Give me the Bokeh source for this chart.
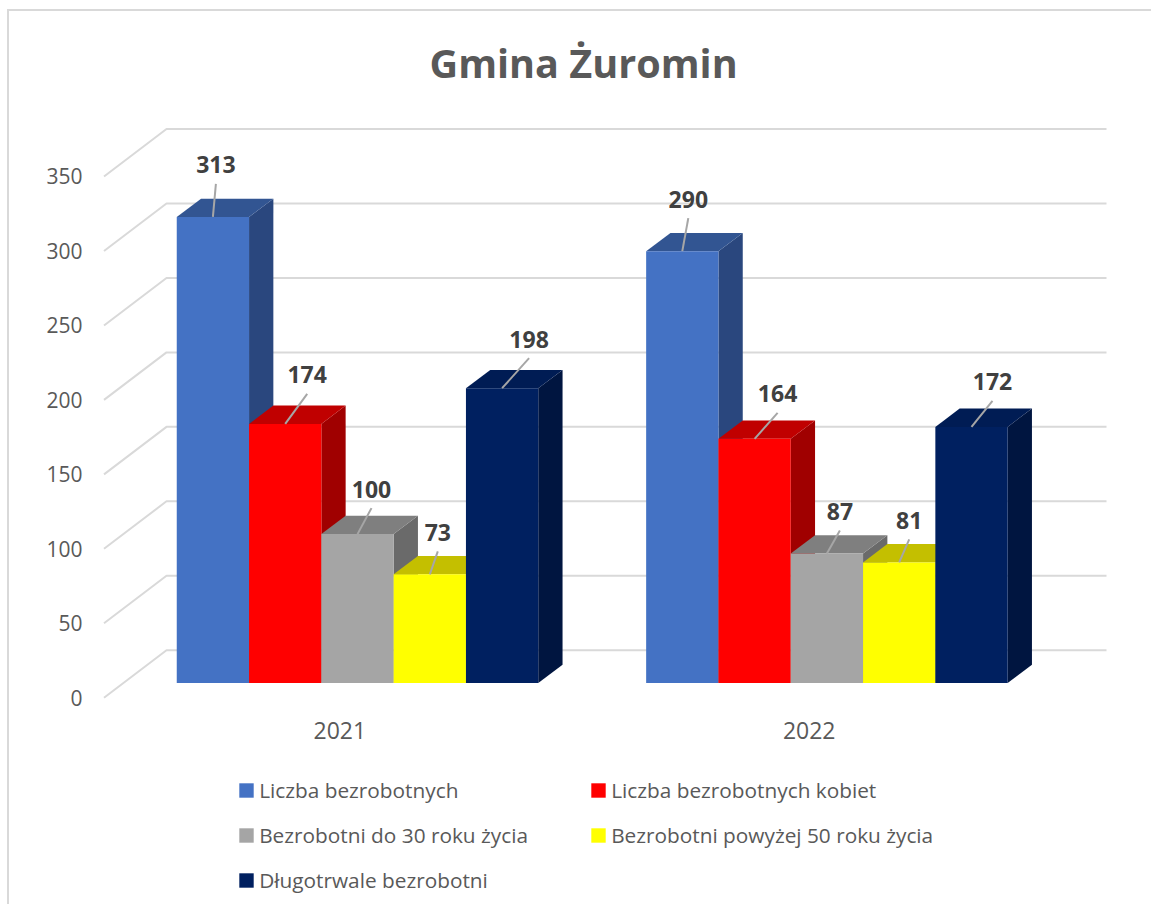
from bokeh.plotting import figure
from bokeh.models import (Range1d, LinearAxis, FixedTicker, Legend, LegendItem, Title)
from bokeh.embed import file_html
from bokeh.resources import INLINE
from bokeh.core.properties import value

# ---- data ----
years = ["2021", "2022"]
series_names = ["Liczba bezrobotnych", "Liczba bezrobotnych kobiet", "Bezrobotni do 30 roku życia",
                "Bezrobotni powyżej 50 roku życia", "Długotrwale bezrobotni"]
liczba = [313, 290]
kobiety = [174, 164]
do_30 = [100, 87]
powyzej_50 = [73, 81]
dlugotrwale = [198, 172]
value_ticks = [0, 50, 100, 150, 200, 250, 300, 350]

# ---- styles ----
FRONT = ["#4472C4", "#FF0000", "#A5A5A5", "#FFFF00", "#002060"]
TOP = ["#325592", "#C00000", "#7F7F7F", "#C4BF00", "#001C54"]
SIDE = ["#2A477E", "#A00000", "#6A6A6A", "#A8A400", "#001540"]
FONT = "Open Sans"
TXT = "#595959"

# label offsets (px) from front-top centre of each bar, per series / per year
LABEL_DX = [[3, 6], [22, 23], [14, 13], [8, 10], [27, 21]]
LABEL_DY = [[52, 52], [49, 45], [45, 42], [42, 42], [49, 45]]

# ---- layout (page px) ----
OX, OY = 9, 11   # page position of the canvas origin
W, H = 1153 - OX, 906 - OY
F_L, F_R, F_T, F_B = 90, 1120, 110, 903
G0 = 357.0       # page x of first group's centre
G_STEP = 469.4   # px between groups
BAR_W = 72.3
DEPTH_X, DEPTH_Y = 24.3, 18.3
Y0 = 682.5       # page y of the bars' base
SCALE = 1.489    # px per unit
AXIS_Y0 = 697.0
AXIS_X0 = 339.3
WALL_L, WALL_R = 166, 1106
WALL_Y0 = 649.7
FLOOR_X, FLOOR_Y = 62.5, 47.5

ux = 1 / G_STEP
uy = 1 / SCALE

p = figure(width=W, height=H, output_backend="svg", toolbar_location=None,
           x_axis_location=None, y_axis_location=None,
           x_range=Range1d((F_L - G0) * ux, (F_R - G0) * ux),
           y_range=Range1d((Y0 - F_B) * uy, (Y0 - F_T) * uy),
           min_border_left=F_L - OX, min_border_right=W + OX - F_R,
           min_border_top=F_T - OY, min_border_bottom=H + OY - F_B,
           margin=(9, 0, 0, 7),
           styles={"border-top": "2px solid #D9D9D9", "border-left": "2px solid #D9D9D9"})
p.grid.visible = False
p.outline_line_color = None
p.background_fill_color = "white"
p.border_fill_color = "white"

p.extra_x_ranges["axis"] = Range1d((F_L - AXIS_X0) * ux, (F_R - AXIS_X0) * ux)
p.extra_y_ranges["axis"] = Range1d((AXIS_Y0 - F_B) * uy, (AXIS_Y0 - F_T) * uy)

# axes
yax = LinearAxis(y_range_name="axis", ticker=FixedTicker(ticks=value_ticks))
yax.axis_line_color = None
yax.major_tick_line_color = None
yax.minor_tick_line_color = None
yax.major_tick_out = 0
yax.major_label_standoff = 8
yax.major_label_text_font = FONT
yax.major_label_text_font_size = "21px"
yax.major_label_text_color = TXT
p.add_layout(yax, "left")

xax = LinearAxis(x_range_name="axis", ticker=FixedTicker(ticks=[0, 1]))
xax.major_label_overrides = {0: years[0], 1: years[1]}
xax.axis_line_color = None
xax.major_tick_line_color = None
xax.minor_tick_line_color = None
xax.major_tick_out = 0
xax.major_label_standoff = -182
xax.major_label_text_font = FONT
xax.major_label_text_font_size = "23px"
xax.major_label_text_color = TXT
p.add_layout(xax, "below")

# walls: back-wall gridline plus diagonal along the left wall
wall_shift = (Y0 - WALL_Y0) * uy
grid_xs, grid_ys = [], []
for t in value_ticks:
    yb = t + wall_shift
    grid_xs.append([(WALL_R - G0) * ux, (WALL_L - G0) * ux, (WALL_L - FLOOR_X - G0) * ux])
    grid_ys.append([yb, yb, yb - FLOOR_Y * uy])
p.multi_line(grid_xs, grid_ys, line_color="#D9D9D9", line_width=2)

# bars
all_series = [liczba, kobiety, do_30, powyzej_50, dlugotrwale]
dx, dy = DEPTH_X * ux, DEPTH_Y * uy
bw = BAR_W * ux
legend_items = []
for i, vals in enumerate(all_series):
    centres = [g + (i - 2) * bw for g in range(len(years))]
    side_x = [[c + bw / 2, c + bw / 2 + dx, c + bw / 2 + dx, c + bw / 2] for c in centres]
    side_y = [[0, dy, v + dy, v] for v in vals]
    top_x = [[c - bw / 2, c + bw / 2, c + bw / 2 + dx, c - bw / 2 + dx] for c in centres]
    top_y = [[v, v, v + dy, v + dy] for v in vals]
    p.patches(side_x, side_y, fill_color=SIDE[i], line_color=None)
    p.patches(top_x, top_y, fill_color=TOP[i], line_color=None)
    r = p.vbar(x=centres, top=vals, bottom=0, width=bw, fill_color=FRONT[i], line_color=None)
    legend_items.append(LegendItem(label=series_names[i], renderers=[r]))

# data labels with leader lines (drawn on top of every bar)
lab_x, lab_y, lab_t, lead_x, lead_y = [], [], [], [], []
for i, vals in enumerate(all_series):
    for g, v in enumerate(vals):
        c = g + (i - 2) * bw
        lx = c + LABEL_DX[i][g] * ux
        ly = v + LABEL_DY[i][g] * uy
        lab_x.append(lx)
        lab_y.append(ly)
        lab_t.append(str(v))
        lead_x.append([c, lx])
        lead_y.append([v, ly - 19 * uy])
p.multi_line(lead_x, lead_y, line_color="#A6A6A6", line_width=2)
p.text(x=lab_x, y=lab_y, text=lab_t, text_align="center", text_baseline="middle",
       text_font=value(FONT), text_font_style="bold", text_font_size="23px", text_color="#404040")

# legend
legend = Legend(items=legend_items, ncols=2, orientation="horizontal",
                location=(147.2, 1), padding=0, margin=0, spacing=0,
                glyph_width=18, glyph_height=18, label_standoff=4, label_height=45, label_width=330,
                background_fill_alpha=0, border_line_color=None,
                label_text_font=FONT, label_text_font_size="20.8px", label_text_color=TXT)
p.add_layout(legend, "center")

# title
p.add_layout(Title(text="Gmina Żuromin", align="left", offset=339, standoff=42,
                   text_font=FONT, text_font_style="bold", text_font_size="39.6px",
                   text_color=TXT), "above")

open("out.html", "w").write(file_html(p, INLINE))
